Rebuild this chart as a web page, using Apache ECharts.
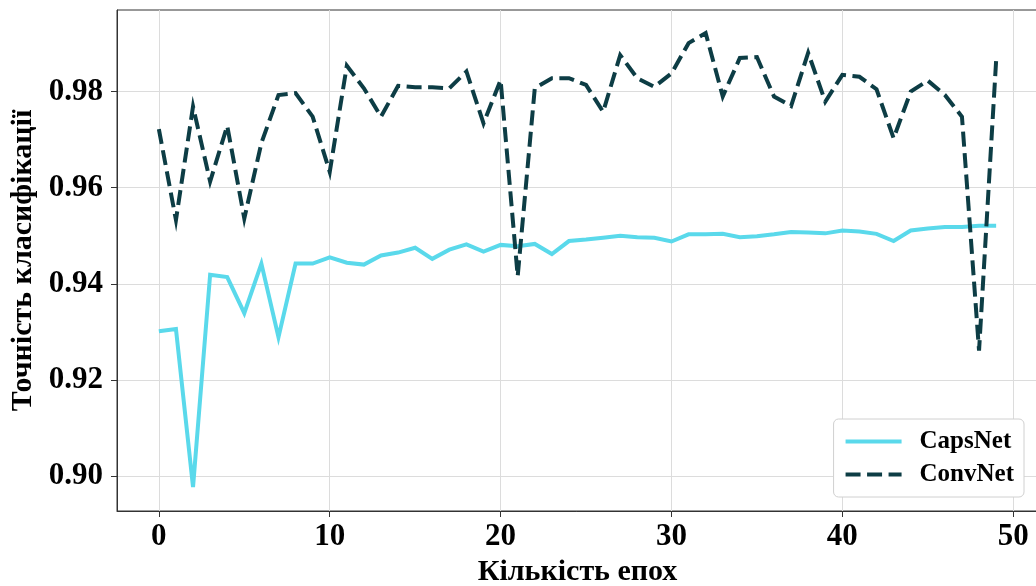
<!DOCTYPE html>
<html>
<head>
<meta charset="utf-8">
<script src="https://cdn.jsdelivr.net/npm/echarts@6/dist/echarts.min.js"></script>
<style>
  html, body { margin: 0; padding: 0; background: #fff; }
  #chart { width: 1036px; height: 586px; }
</style>
</head>
<body>
<div id="chart"></div>
<script>
// epochs 0..49
const epochs = [
  0, 1, 2, 3, 4, 5, 6, 7, 8, 9,
  10, 11, 12, 13, 14, 15, 16, 17, 18, 19,
  20, 21, 22, 23, 24, 25, 26, 27, 28, 29,
  30, 31, 32, 33, 34, 35, 36, 37, 38, 39,
  40, 41, 42, 43, 44, 45, 46, 47, 48, 49
];

const capsNet = [
  0.9301, 0.9306, 0.8977, 0.9419, 0.9414, 0.9339, 0.9442, 0.9289, 0.9442, 0.9442,
  0.9455, 0.9444, 0.9440, 0.9459, 0.9465, 0.9475, 0.9452, 0.9471, 0.9482, 0.9467,
  0.9481, 0.9478, 0.9483, 0.9462, 0.9489, 0.9492, 0.9496, 0.9500, 0.9497, 0.9496,
  0.9488, 0.9503, 0.9503, 0.9504, 0.9497, 0.9499, 0.9503, 0.9508, 0.9507, 0.9505,
  0.9511, 0.9509, 0.9504, 0.9489, 0.9511, 0.9515, 0.9518, 0.9518, 0.9521, 0.9521
];

const convNet = [
  0.9722, 0.9533, 0.9769, 0.9613, 0.9729, 0.9536, 0.9693, 0.9793, 0.9797, 0.9748,
  0.9633, 0.9854, 0.9807, 0.9748, 0.9812, 0.9809, 0.9809, 0.9807, 0.9842, 0.9734,
  0.9824, 0.9416, 0.9807, 0.9828, 0.9828, 0.9814, 0.9758, 0.9876, 0.9828, 0.9810,
  0.9838, 0.9901, 0.9922, 0.9790, 0.9870, 0.9872, 0.9790, 0.9770, 0.9881, 0.9779,
  0.9835, 0.9831, 0.9805, 0.9703, 0.9800, 0.9823, 0.9793, 0.9748, 0.9261, 0.9865
];

const xTicks = [0, 10, 20, 30, 40, 50];
const yTicks = [0.90, 0.92, 0.94, 0.96, 0.98];

const seriesNames = ["CapsNet", "ConvNet"];
const xTitle = "Кількість епох";
const yTitle = "Точність класифікації";

const font = "'Liberation Serif', 'Times New Roman', serif";

const chart = echarts.init(document.getElementById("chart"));

chart.setOption({
  animation: false,
  backgroundColor: "#fff",
  grid: {
    left: 117,
    top: 10,
    right: -2,
    bottom: 75,
    outerBoundsMode: "none",
    containLabel: false,
    show: true,
    borderColor: "#333",
    borderWidth: 1
  },
  legend: {
    data: seriesNames,
    orient: "vertical",
    right: 12,
    bottom: 89,
    itemWidth: 56,
    itemHeight: 14,
    itemGap: 8,
    padding: [10, 10, 10, 10],
    backgroundColor: "#fff",
    borderColor: "#d0d0d0",
    borderWidth: 1,
    borderRadius: 5,
    itemStyle: { opacity: 0 },
    lineStyle: { width: 4 },
    textStyle: {
      fontFamily: font,
      fontWeight: "bold",
      fontSize: 25,
      color: "#000",
      padding: [0, 0, 0, 13]
    }
  },
  xAxis: {
    type: "value",
    min: -2.45,
    max: 51.45,
    name: xTitle,
    nameLocation: "middle",
    nameGap: 40,
    nameTextStyle: {
      fontFamily: font,
      fontWeight: "bold",
      fontSize: 30,
      color: "#000"
    },
    axisLine: { show: true, onZero: false, lineStyle: { color: "#333", width: 1 } },
    axisTick: {
      show: true,
      length: 6,
      customValues: xTicks,
      lineStyle: { color: "#333", width: 1 }
    },
    axisLabel: {
      customValues: xTicks,
      margin: 10,
      fontFamily: font,
      fontWeight: "bold",
      fontSize: 31,
      color: "#000"
    },
    splitLine: { show: true, lineStyle: { color: "#dcdcdc", width: 1 } }
  },
  yAxis: {
    type: "value",
    min: 0.8927,
    max: 0.9970,
    name: yTitle,
    nameLocation: "middle",
    nameGap: 72,
    nameRotate: 90,
    nameTextStyle: {
      fontFamily: font,
      fontWeight: "bold",
      fontSize: 30,
      color: "#000"
    },
    axisLine: { show: true, onZero: false, lineStyle: { color: "#333", width: 1 } },
    axisTick: {
      show: true,
      length: 6,
      customValues: yTicks,
      lineStyle: { color: "#333", width: 1 }
    },
    axisLabel: {
      customValues: yTicks,
      margin: 14,
      fontFamily: font,
      fontWeight: "bold",
      fontSize: 31,
      color: "#000",
      formatter: function (v) { return v.toFixed(2); }
    },
    splitLine: { show: true, lineStyle: { color: "#dcdcdc", width: 1 } }
  },
  series: [
    {
      name: seriesNames[0],
      type: "line",
      data: epochs.map((e, i) => [e, capsNet[i]]),
      symbol: "none",
      lineStyle: { color: "#5ad9eb", width: 4, cap: "butt", join: "miter" },
      itemStyle: { color: "#5ad9eb" },
      z: 2
    },
    {
      name: seriesNames[1],
      type: "line",
      data: epochs.map((e, i) => [e, convNet[i]]),
      symbol: "none",
      lineStyle: { color: "#0d3d45", width: 4, type: [15, 6.5], cap: "butt", join: "miter" },
      itemStyle: { color: "#0d3d45" },
      z: 3
    }
  ]
});
</script>
</body>
</html>
